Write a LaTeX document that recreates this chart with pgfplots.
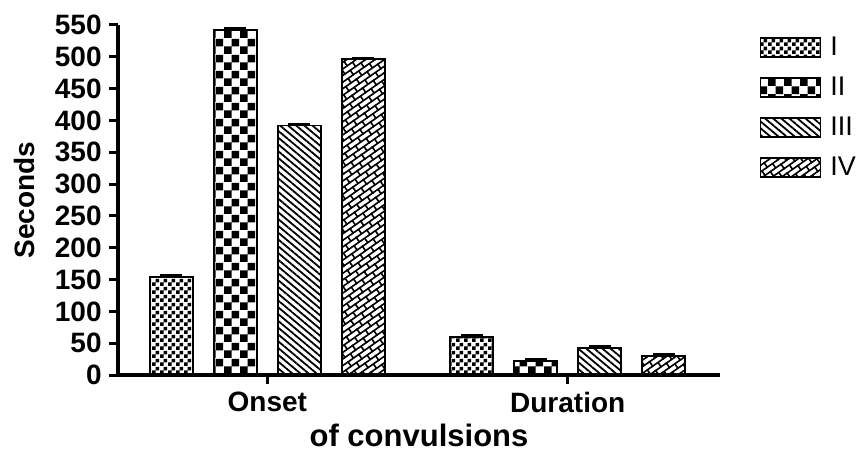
\documentclass[border=0pt]{standalone}
\usepackage{fontspec}
\setmainfont{Liberation Sans}
\usepackage{pgfplots}
\pgfplotsset{compat=1.18}
\usetikzlibrary{patterns,patterns.meta}

\pgfdeclarepattern{name=smallcheck, type=uncolored,
  bottom left={\pgfpoint{0pt}{0pt}}, top right={\pgfpoint{4pt}{4pt}},
  tile size={\pgfpoint{4pt}{4pt}},
  code={\pgfpathrectangle{\pgfpoint{0pt}{0pt}}{\pgfpoint{2pt}{2pt}}%
        \pgfpathrectangle{\pgfpoint{2pt}{2pt}}{\pgfpoint{2pt}{2pt}}%
        \pgfusepath{fill}}}
\pgfdeclarepattern{name=bigcheck, type=uncolored,
  bottom left={\pgfpoint{0pt}{0pt}}, top right={\pgfpoint{8pt}{8pt}},
  tile size={\pgfpoint{8pt}{8pt}},
  code={\pgfpathrectangle{\pgfpoint{0pt}{0pt}}{\pgfpoint{4pt}{4pt}}%
        \pgfpathrectangle{\pgfpoint{4pt}{4pt}}{\pgfpoint{4pt}{4pt}}%
        \pgfusepath{fill}}}
\pgfdeclarepattern{name=diagbricks, type=uncolored,
  bottom left={\pgfpoint{-0.5pt}{-0.5pt}}, top right={\pgfpoint{7pt}{5.9pt}},
  tile size={\pgfpoint{6.5pt}{5.4pt}},
  tile transformation={\pgftransformrotate{35}},
  code={\pgfsetlinewidth{0.8pt}%
    \pgfpathmoveto{\pgfpoint{-0.5pt}{0pt}}\pgfpathlineto{\pgfpoint{7pt}{0pt}}%
    \pgfpathmoveto{\pgfpoint{-0.5pt}{2.7pt}}\pgfpathlineto{\pgfpoint{7pt}{2.7pt}}%
    \pgfpathmoveto{\pgfpoint{0pt}{0pt}}\pgfpathlineto{\pgfpoint{0pt}{2.7pt}}%
    \pgfpathmoveto{\pgfpoint{3.25pt}{2.7pt}}\pgfpathlineto{\pgfpoint{3.25pt}{5.4pt}}%
    \pgfusepath{stroke}}}

\pgfplotsset{
  mylegend/.style={legend image code/.code={%
    \draw[##1, line width=0.9pt] (0pt,-4.75pt) rectangle (30pt,4.75pt);}},
  myerr/.style={error bars/.cd, y dir=plus, y explicit,
    error bar style={line width=1.5pt, black},
    error mark options={rotate=90, mark size=5.5pt, line width=1.5pt, black}},
}

\begin{document}
\begin{tikzpicture}
\begin{axis}[
  width=301pt, height=175pt, scale only axis,
  xmin=-0.497, xmax=1.507, ymin=0, ymax=550,
  axis lines*=left,
  axis line style={line width=1.75pt, black},
  ytick={0,50,...,550},
  xtick={0,1}, xticklabels={Onset,Duration},
  tick align=outside, major tick length=4.5pt,
  tick style={line width=1.5pt, black},
  /pgf/number format/assume math mode=true,
  ticklabel style={font=\bfseries\fontsize{14}{16}\selectfont},
  yticklabel style={anchor=east, inner sep=0pt, xshift=-3.5pt},
  xticklabel style={anchor=north, inner sep=0pt, yshift=-4pt},
  ylabel={Seconds},
  ylabel style={font=\bfseries\fontsize{14}{16}\selectfont, at={(axis description cs:-0.155,0.5)}, anchor=center},
  xlabel={of convulsions},
  xlabel style={font=\bfseries\fontsize{15.5}{18}\selectfont, at={(axis description cs:0.5,-0.203)}, anchor=base},
  ybar=10.5pt, bar width=21.5pt,
  clip=false,
  legend style={at={(1.065,0.994)}, anchor=north west, draw=none, fill=none,
    inner sep=0pt, font=\fontsize{13.5}{16}\selectfont, row sep=0pt,
    nodes={inner sep=0pt, text height=14pt, text depth=6pt},
    /tikz/every odd column/.append style={column sep=4.5pt}},
  legend cell align=left,
]
\addplot[draw=black, line width=0.9pt, pattern=smallcheck, pattern color=black, mylegend, myerr]
  coordinates {(0,154) +- (0,2) (1,60) +- (0,2)};
\addplot[draw=black, line width=0.9pt, pattern=bigcheck, pattern color=black, mylegend, myerr]
  coordinates {(0,542) +- (0,2) (1,22) +- (0,2)};
\addplot[draw=black, line width=0.9pt, pattern={Lines[angle=-40,distance=2.6pt,line width=0.9pt]}, pattern color=black, mylegend, myerr]
  coordinates {(0,392) +- (0,2) (1,43) +- (0,2)};
\addplot[draw=black, line width=0.9pt, pattern=diagbricks, pattern color=black, mylegend, myerr]
  coordinates {(0,496) +- (0,2) (1,30) +- (0,2)};
\legend{I,II,III,IV}
\coordinate (bl) at (rel axis cs:0,0);
\end{axis}
\pgfresetboundingbox
\path ([shift={(-59pt,-39.5pt)}]bl) rectangle ([shift={(371pt,187.5pt)}]bl);
\end{tikzpicture}
\end{document}
